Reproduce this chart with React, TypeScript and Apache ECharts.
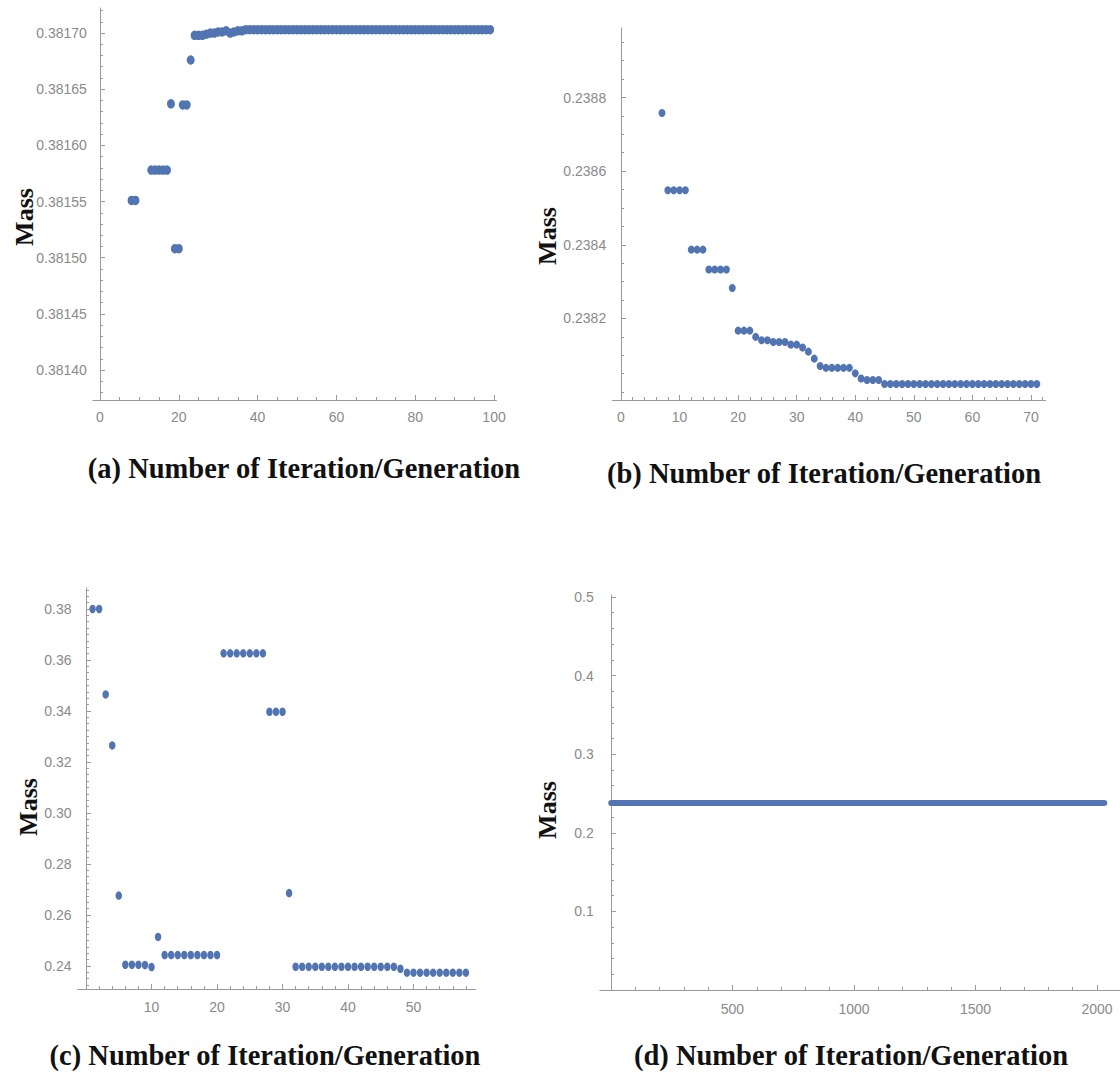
import React, { useEffect, useRef } from "react";
import * as echarts from "echarts";

// ---------- Panel (a) ----------
const aIter = [8, 9, 13, 14, 15, 16, 17, 18, 19, 20, 21, 22, 23,
  24, 25, 26, 27, 28, 29, 30, 31, 32, 33, 34, 35, 36, 37, 38, 39, 40, 41, 42, 43, 44, 45, 46, 47, 48, 49,
  50, 51, 52, 53, 54, 55, 56, 57, 58, 59, 60, 61, 62, 63, 64, 65, 66, 67, 68, 69, 70, 71, 72, 73, 74,
  75, 76, 77, 78, 79, 80, 81, 82, 83, 84, 85, 86, 87, 88, 89, 90, 91, 92, 93, 94, 95, 96, 97, 98, 99];
const aMass = [0.381551, 0.381551, 0.381578, 0.381578, 0.381578, 0.381578, 0.381578, 0.381637, 0.381508, 0.381508,
  0.381636, 0.381636, 0.381676,
  0.381698, 0.381698, 0.381698, 0.381699, 0.3817, 0.3817, 0.381701, 0.381701, 0.381702, 0.3817, 0.381701, 0.381702,
  0.381702, 0.381703, 0.381703, 0.381703, 0.381703, 0.381703, 0.381703, 0.381703, 0.381703, 0.381703, 0.381703, 0.381703,
  0.381703, 0.381703, 0.381703, 0.381703, 0.381703, 0.381703, 0.381703, 0.381703, 0.381703, 0.381703, 0.381703, 0.381703,
  0.381703, 0.381703, 0.381703, 0.381703, 0.381703, 0.381703, 0.381703, 0.381703, 0.381703, 0.381703, 0.381703, 0.381703,
  0.381703, 0.381703, 0.381703, 0.381703, 0.381703, 0.381703, 0.381703, 0.381703, 0.381703, 0.381703, 0.381703, 0.381703,
  0.381703, 0.381703, 0.381703, 0.381703, 0.381703, 0.381703, 0.381703, 0.381703, 0.381703, 0.381703, 0.381703, 0.381703,
  0.381703, 0.381703, 0.381703, 0.381703, 0.381703];
const aXTicks = [0, 20, 40, 60, 80, 100];
const aYTicks = [0.3814, 0.38145, 0.3815, 0.38155, 0.3816, 0.38165, 0.3817];

// ---------- Panel (b) ----------
const bIter = [7, 8, 9, 10, 11, 12, 13, 14, 15, 16, 17, 18, 19, 20, 21, 22, 23, 24, 25, 26, 27, 28, 29, 30,
  31, 32, 33, 34, 35, 36, 37, 38, 39, 40, 41, 42, 43, 44, 45, 46, 47, 48, 49, 50, 51, 52, 53, 54, 55, 56,
  57, 58, 59, 60, 61, 62, 63, 64, 65, 66, 67, 68, 69, 70, 71];
const bMass = [0.238758, 0.238548, 0.238548, 0.238548, 0.238548, 0.238387, 0.238387, 0.238387,
  0.238333, 0.238333, 0.238333, 0.238333, 0.238283, 0.238167, 0.238167, 0.238167, 0.23815,
  0.238141, 0.238141, 0.238136, 0.238136, 0.238136, 0.238129, 0.238129, 0.238121, 0.23811,
  0.238091, 0.238071, 0.238066, 0.238066, 0.238066, 0.238066, 0.238066, 0.238051, 0.238037,
  0.238033, 0.238033, 0.238033, 0.238022, 0.238022, 0.238022, 0.238022, 0.238022, 0.238022,
  0.238022, 0.238022, 0.238022, 0.238022, 0.238022, 0.238022, 0.238022, 0.238022, 0.238022,
  0.238022, 0.238022, 0.238022, 0.238022, 0.238022, 0.238022, 0.238022, 0.238022, 0.238022,
  0.238022, 0.238022, 0.238022];
const bXTicks = [0, 10, 20, 30, 40, 50, 60, 70];
const bYTicks = [0.2382, 0.2384, 0.2386, 0.2388];

// ---------- Panel (c) ----------
const cIter = [1, 2, 3, 4, 5, 6, 7, 8, 9, 10, 11, 12, 13, 14, 15, 16, 17, 18, 19, 20, 21, 22, 23, 24, 25,
  26, 27, 28, 29, 30, 31, 32, 33, 34, 35, 36, 37, 38, 39, 40, 41, 42, 43, 44, 45, 46, 47, 48, 49, 50,
  51, 52, 53, 54, 55, 56, 57, 58];
const cMass = [0.38, 0.38, 0.3465, 0.3265, 0.2676, 0.2405, 0.2405, 0.2405, 0.2404, 0.2396, 0.2514,
  0.2443, 0.2443, 0.2443, 0.2443, 0.2443, 0.2443, 0.2443, 0.2443, 0.2443,
  0.3626, 0.3626, 0.3626, 0.3626, 0.3626, 0.3626, 0.3626, 0.3397, 0.3397, 0.3397, 0.2686,
  0.2397, 0.2397, 0.2397, 0.2397, 0.2397, 0.2397, 0.2397, 0.2397, 0.2397, 0.2397, 0.2397, 0.2397,
  0.2397, 0.2397, 0.2397, 0.2397, 0.2389,
  0.2374, 0.2374, 0.2374, 0.2374, 0.2374, 0.2374, 0.2374, 0.2374, 0.2374, 0.2374];
const cXTicks = [10, 20, 30, 40, 50];
const cYTicks = [0.24, 0.26, 0.28, 0.3, 0.32, 0.34, 0.36, 0.38];

// ---------- Panel (d) ----------
const dIter = [1, 2030];
const dMass = [0.238, 0.238];
const dXTicks = [500, 1000, 1500, 2000];
const dYTicks = [0.1, 0.2, 0.3, 0.4, 0.5];

const titles = [
  "(a) Number of Iteration/Generation",
  "(b) Number of Iteration/Generation",
  "(c) Number of Iteration/Generation",
  "(d) Number of Iteration/Generation",
];
const yName = "Mass";

const BLUE = "#5175b2";
const AXIS = "#9a9a9a";
const LABEL = "#8a8a8a";

function steps(start: number, end: number, step: number, skip: number[]) {
  const out: number[] = [];
  const n = Math.round((end - start) / step);
  for (let i = 0; i <= n; i++) {
    const v = +(start + i * step).toFixed(8);
    if (!skip.some((s) => Math.abs(s - v) < step / 10)) out.push(v);
  }
  return out;
}

type Panel = {
  grid: { left: number; top: number; width: number; height: number };
  xMin: number; xMax: number; yMin: number; yMax: number;
  xMajor: number[]; xMinor: number[]; yMajor: number[]; yMinor: number[];
  dec: number; xMargin: number;
};

const panels: Panel[] = [
  {
    grid: { left: 92.9, top: 8, width: 403.5, height: 392 },
    xMin: -1.8, xMax: 100.6, yMin: 0.3813733, yMax: 0.3817223,
    xMajor: aXTicks, xMinor: steps(0, 100, 5, aXTicks),
    yMajor: aYTicks, yMinor: steps(0.38138, 0.38172, 0.00001, aYTicks), dec: 5, xMargin: 10,
  },
  {
    grid: { left: 612.2, top: 28, width: 433.4, height: 372 },
    xMin: -1.5, xMax: 72.5, yMin: 0.2379787, yMax: 0.2389887,
    xMajor: bXTicks, xMinor: steps(0, 72, 2, bXTicks),
    yMajor: bYTicks, yMinor: steps(0.238, 0.23895, 0.00005, bYTicks), dec: 4, xMargin: 10,
  },
  {
    grid: { left: 77.5, top: 588, width: 398.2, height: 401 },
    xMin: -1.3, xMax: 59.5, yMin: 0.23098, yMax: 0.388235,
    xMajor: cXTicks, xMinor: steps(2, 58, 2, cXTicks),
    yMajor: cYTicks, yMinor: steps(0.2325, 0.3875, 0.0025, cYTicks), dec: 2, xMargin: 11,
  },
  {
    grid: { left: 599.8, top: 595, width: 520, height: 395 },
    xMin: -46, xMax: 2094, yMin: 0, yMax: 0.50254,
    xMajor: dXTicks, xMinor: steps(100, 2000, 100, dXTicks),
    yMajor: dYTicks, yMinor: steps(0.02, 0.5, 0.02, dYTicks), dec: 1, xMargin: 12,
  },
];

const titlePos = [[304, 468], [824, 473], [265, 1055], [851, 1055]];
const massPos = [[24, 217], [547, 236], [28, 807], [547, 810]];

export default function App() {
  const ref = useRef<HTMLDivElement>(null);
  useEffect(() => {
    if (!ref.current) return;
    const chart = echarts.init(ref.current, null, { renderer: "svg" });
    const labelStyle = { color: LABEL, fontSize: 14, fontFamily: "Liberation Sans, Arial, sans-serif" };
    const xAxis: any[] = [];
    const yAxis: any[] = [];
    panels.forEach((p, i) => {
      xAxis.push({
        type: "value", gridIndex: i, min: p.xMin, max: p.xMax, position: "bottom",
        axisLine: { show: true, onZero: false, lineStyle: { color: AXIS, width: 1 } },
        axisTick: { show: true, inside: true, length: 5, customValues: p.xMajor, lineStyle: { color: AXIS } },
        axisLabel: { show: true, customValues: p.xMajor, margin: p.xMargin, ...labelStyle, formatter: (v: number) => String(v) },
        splitLine: { show: false },
      });
      xAxis.push({
        type: "value", gridIndex: i, min: p.xMin, max: p.xMax, position: "bottom",
        axisLine: { show: false, onZero: false },
        axisTick: { show: true, inside: true, length: 3, customValues: p.xMinor, lineStyle: { color: AXIS } },
        axisLabel: { show: false },
        splitLine: { show: false },
      });
      yAxis.push({
        type: "value", gridIndex: i, min: p.yMin, max: p.yMax, position: "left",
        axisLine: { show: true, onZero: true, onZeroAxisIndex: 2 * i, lineStyle: { color: AXIS, width: 1 } },
        axisTick: { show: true, inside: true, length: 5, customValues: p.yMajor, lineStyle: { color: AXIS } },
        axisLabel: { show: true, customValues: p.yMajor, margin: 6, ...labelStyle, formatter: (v: number) => v.toFixed(p.dec) },
        splitLine: { show: false },
      });
      yAxis.push({
        type: "value", gridIndex: i, min: p.yMin, max: p.yMax, position: "left",
        axisLine: { show: false, onZero: true, onZeroAxisIndex: 2 * i + 1 },
        axisTick: { show: true, inside: true, length: 3, customValues: p.yMinor, lineStyle: { color: AXIS } },
        axisLabel: { show: false },
        splitLine: { show: false },
      });
    });

    const zip = (xs: number[], ys: number[]) => xs.map((x, k) => [x, ys[k]]);

    const graphics: any[] = [];
    titles.forEach((t, i) => {
      graphics.push({
        type: "text", x: titlePos[i][0], y: titlePos[i][1],
        style: { text: t, fill: "#111", font: "bold 28.5px 'Liberation Serif', 'Times New Roman', serif", textAlign: "center", textVerticalAlign: "middle" },
      });
      graphics.push({
        type: "text", x: massPos[i][0], y: massPos[i][1], rotation: Math.PI / 2,
        style: { text: yName, fill: "#111", font: "bold 26px 'Liberation Serif', 'Times New Roman', serif", textAlign: "center", textVerticalAlign: "middle" },
      });
    });

    chart.setOption({
      animation: false,
      backgroundColor: "#ffffff",
      grid: panels.map((p) => ({ ...p.grid, containLabel: false })),
      xAxis,
      yAxis,
      graphic: graphics,
      series: [
        { type: "scatter", xAxisIndex: 0, yAxisIndex: 0, data: zip(aIter, aMass), symbol: "circle", symbolSize: [8, 9.5], itemStyle: { color: BLUE, opacity: 1 } },
        { type: "scatter", xAxisIndex: 2, yAxisIndex: 2, data: zip(bIter, bMass), symbol: "circle", symbolSize: [7, 8], itemStyle: { color: BLUE, opacity: 1 } },
        { type: "scatter", xAxisIndex: 4, yAxisIndex: 4, data: zip(cIter, cMass), symbol: "circle", symbolSize: [6.5, 8.5], itemStyle: { color: BLUE, opacity: 1 } },
        { type: "line", xAxisIndex: 6, yAxisIndex: 6, data: zip(dIter, dMass), symbol: "none", lineStyle: { color: BLUE, width: 6, cap: "round" } },
      ],
    });
    return () => chart.dispose();
  }, []);
  return <div ref={ref} style={{ position: "absolute", left: 0, top: 0, width: 1120, height: 1077 }} />;
}
